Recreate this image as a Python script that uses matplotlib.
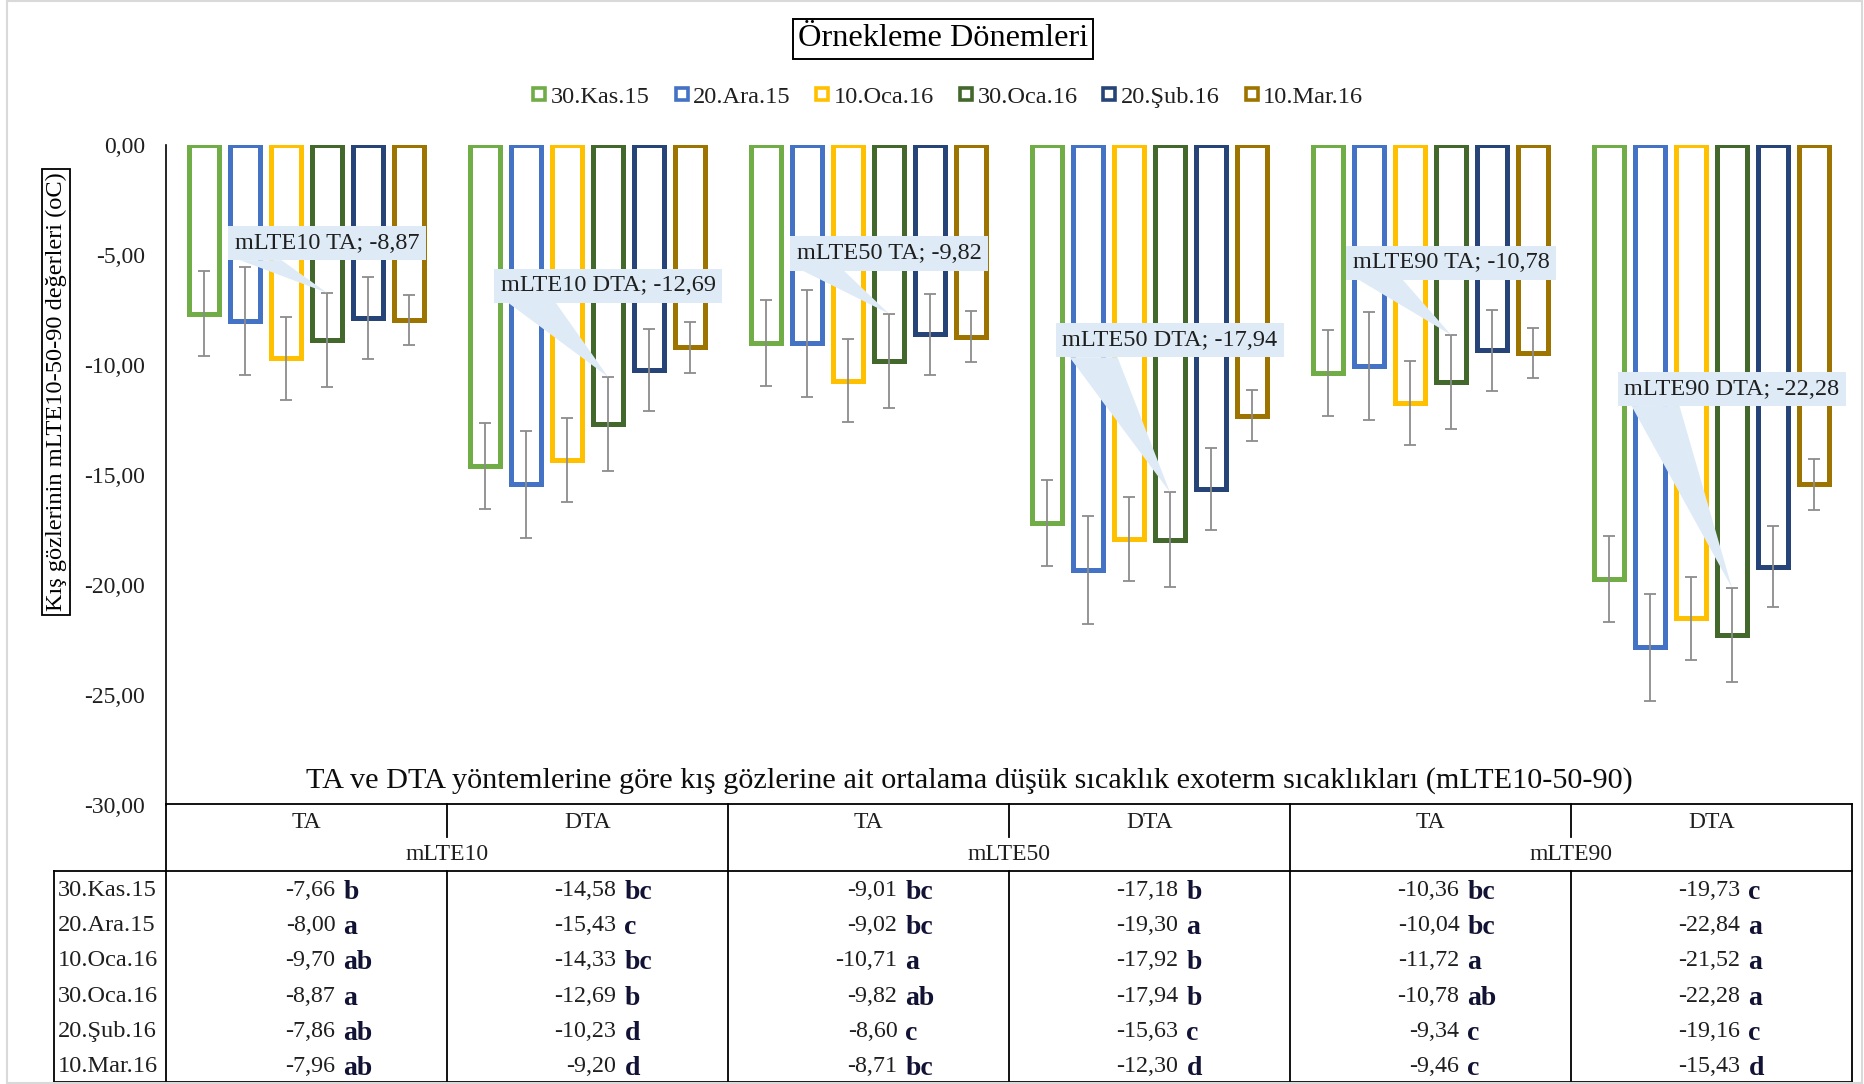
import matplotlib
matplotlib.use("Agg")
import matplotlib.pyplot as plt
from matplotlib.lines import Line2D
from matplotlib.patches import Polygon, Rectangle
import numpy as np

# ---------------- data ----------------
categories = ["mLTE10 TA", "mLTE10 DTA", "mLTE50 TA", "mLTE50 DTA", "mLTE90 TA", "mLTE90 DTA"]
methods = ["TA", "DTA", "TA", "DTA", "TA", "DTA"]
groups = ["mLTE10", "mLTE50", "mLTE90"]
series_names = ["30.Kas.15", "20.Ara.15", "10.Oca.16", "30.Oca.16", "20.Şub.16", "10.Mar.16"]

# values per category (rows = series in series_names order)
mLTE10_TA = [-7.66, -8.00, -9.70, -8.87, -7.86, -7.96]
mLTE10_DTA = [-14.58, -15.43, -14.33, -12.69, -10.23, -9.20]
mLTE50_TA = [-9.01, -9.02, -10.71, -9.82, -8.60, -8.71]
mLTE50_DTA = [-17.18, -19.30, -17.92, -17.94, -15.63, -12.30]
mLTE90_TA = [-10.36, -10.04, -11.72, -10.78, -9.34, -9.46]
mLTE90_DTA = [-19.73, -22.84, -21.52, -22.28, -19.16, -15.43]

letters_10_TA = ["b", "a", "ab", "a", "ab", "ab"]
letters_10_DTA = ["bc", "c", "bc", "b", "d", "d"]
letters_50_TA = ["bc", "bc", "a", "ab", "c", "bc"]
letters_50_DTA = ["b", "a", "b", "b", "c", "d"]
letters_90_TA = ["bc", "bc", "a", "ab", "c", "c"]
letters_90_DTA = ["c", "a", "a", "a", "c", "d"]

# error bar half-lengths per series
series_err = [1.95, 2.45, 1.9, 2.15, 1.85, 1.15]

yticks = [0, -5, -10, -15, -20, -25, -30]

# ---------------- style ----------------
colors = ["#70AD47", "#4472C4", "#FFC000", "#43682B", "#264478", "#9E7400"]
FONT = "Liberation Serif"
TXT = "#1f1f1f"
plt.rcParams["font.family"] = [FONT, "DejaVu Serif"]

values = np.array([mLTE10_TA, mLTE10_DTA, mLTE50_TA, mLTE50_DTA, mLTE90_TA, mLTE90_DTA])
letters = [letters_10_TA, letters_10_DTA, letters_50_TA, letters_50_DTA, letters_90_TA, letters_90_DTA]

W, H = 1865, 1084
fig = plt.figure(figsize=(W / 100, H / 100), dpi=100)

def fx(x):
    return x / W

def fy(y):
    return 1 - y / H

# outer light border
fig.patches.append(Rectangle((fx(7), fy(1083)), fx(1862) - fx(7), fy(1) - fy(1083),
                             transform=fig.transFigure, fill=False, ec="#D9D9D9", lw=1.5))

ax = fig.add_axes([fx(166), fy(805), fx(1852) - fx(166), fy(145) - fy(805)])
ax.set_xlim(-0.5, len(categories) - 0.5)
ax.set_ylim(-30, 0)
for s in ["top", "right", "bottom"]:
    ax.spines[s].set_visible(False)
ax.spines["left"].set_color("black")
ax.spines["left"].set_linewidth(1.2)
ax.set_xticks([])
ax.set_yticks(yticks)
ax.set_yticklabels([f"{t:.2f}".replace(".", ",") for t in yticks], fontsize=17, color=TXT)
ax.tick_params(axis="y", length=0, pad=15)
ax.patch.set_alpha(0)

slot = 0.146
bw = 0.108
x = np.arange(len(categories))
for s in range(len(series_names)):
    xs = x + (s - 2.5) * slot
    ax.bar(xs, values[:, s], width=bw, facecolor="white", edgecolor=colors[s],
           linewidth=3.6, zorder=2, label=series_names[s])
    ax.errorbar(xs, values[:, s], yerr=series_err[s], fmt="none", ecolor="#8C8C8C",
                elinewidth=1.3, capsize=4.5, capthick=1.3, zorder=3)

# legend
handles = [Line2D([], [], marker="s", linestyle="none", markersize=9, markerfacecolor="white",
                  markeredgecolor=c, markeredgewidth=2.6) for c in colors]
fig.legend(handles, series_names, loc="center", bbox_to_anchor=(fx(947), fy(97)), ncol=6,
           frameon=False, fontsize=17.6, handlelength=0.7, handletextpad=0.12,
           columnspacing=0.95, labelcolor=TXT)

# top title in box
fig.text(fx(943), fy(39), "Örnekleme Dönemleri", ha="center", va="center", fontsize=23.3,
         color="black", bbox=dict(boxstyle="square,pad=0.16", fc="white", ec="black", lw=1.4))

# y label in box
fig.text(fx(56), fy(392), "Kış gözlerinin mLTE10-50-90 değerleri (oC)", rotation=90,
         ha="center", va="center", fontsize=17.6, color="black",
         bbox=dict(boxstyle="square,pad=0.15", fc="white", ec="black", lw=1.3))

# table title inside plot
ax.text(2.36, -28.87,
        "TA ve DTA yöntemlerine göre kış gözlerine ait ortalama düşük sıcaklık exoterm sıcaklıkları (mLTE10-50-90)",
        ha="center", va="center", fontsize=21.8, color="#0d0d0d")

# callouts on the 30.Oca.16 series (index 3)
callout_series = 3
callout_box_y = [-4.47, -6.39, -4.93, -8.88, -5.36, -11.10]
texts = []
for g in range(len(categories)):
    v = values[g, callout_series]
    label = f"{categories[g]}; {v:.2f}".replace(".", ",")
    xt = g + (callout_series - 2.5) * slot
    t = ax.text(xt, callout_box_y[g], label, ha="center", va="center", fontsize=17.5, color=TXT,
                zorder=6, bbox=dict(boxstyle="square,pad=0.27", fc="#DEEBF7", ec="none"))
    texts.append((t, xt, v + series_err[callout_series]))

fig.canvas.draw()
inv = ax.transData.inverted()
for t, xt, ytip in texts:
    bb = t.get_bbox_patch().get_window_extent()
    (x0, y0), (x1, y1) = inv.transform([(bb.x0, bb.y0), (bb.x1, bb.y1)])
    w = x1 - x0
    poly = Polygon([(x0 + 0.06 * w, y0 + 0.01), (x0 + 0.27 * w, y0 + 0.01), (xt, ytip)],
                   closed=True, fc="#DEEBF7", ec="none", zorder=5)
    ax.add_patch(poly)

# ---------------- data table ----------------
tax = fig.add_axes([0, 0, 1, 1])
tax.set_xlim(0, W)
tax.set_ylim(H, 0)
tax.axis("off")
tax.patch.set_alpha(0)

def xpix(xd):
    return ax.transData.transform([(xd, 0)])[0][0]

edges = [xpix(k - 0.5) for k in range(len(categories) + 1)]
centers = [xpix(k) for k in range(len(categories))]
y_head_top, y_mid, y_data_top, y_bot = 804, 837, 871, 1082
x_lab = 54
row_h = (y_bot - y_data_top) / len(series_names)

lk = dict(color="black", lw=1.3)
tax.plot([edges[0], edges[-1]], [y_head_top, y_head_top], **lk)
tax.plot([x_lab, edges[-1]], [y_data_top, y_data_top], **lk)
tax.plot([x_lab, edges[-1]], [y_bot, y_bot], **lk)
tax.plot([x_lab, x_lab], [y_data_top, y_bot], **lk)
tax.plot([edges[0], edges[0]], [y_head_top, y_bot], **lk)
for k in range(1, len(edges)):
    if k % 2 == 0:
        tax.plot([edges[k], edges[k]], [y_head_top, y_bot], **lk)
    else:
        tax.plot([edges[k], edges[k]], [y_head_top, y_mid], **lk)
        tax.plot([edges[k], edges[k]], [y_data_top, y_bot], **lk)

for k, m in enumerate(methods):
    tax.text(centers[k], 823, m, ha="center", va="center", fontsize=17, color=TXT)
for j, gname in enumerate(groups):
    tax.text(edges[2 * j + 1], 855, gname, ha="center", va="center", fontsize=17, color=TXT)

for r, sname in enumerate(series_names):
    yc = y_data_top + (r + 0.5) * row_h + 2
    tax.text(x_lab + 4, yc, sname, ha="left", va="center", fontsize=17.6, color=TXT)
    for k in range(len(categories)):
        tax.text(centers[k] + 29, yc, f"{values[k, r]:.2f}".replace(".", ","), ha="right",
                 va="center", fontsize=17.3, color=TXT)
        tax.text(centers[k] + 37, yc + 2, letters[k][r], ha="left", va="center", fontsize=20,
                 fontweight="bold", color="#121235")

fig.savefig("out.png", dpi=100)
